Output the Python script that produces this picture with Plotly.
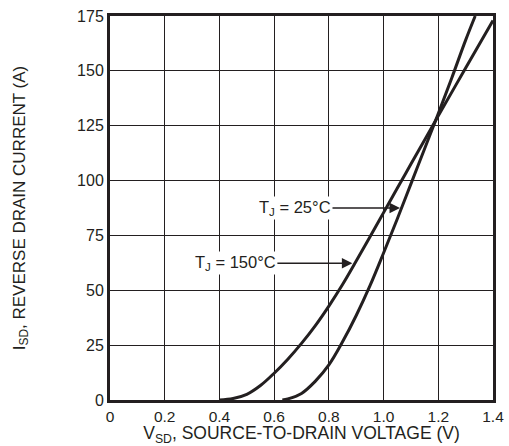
import plotly.graph_objects as go

v_25 = [0.63, 0.65, 0.70, 0.75, 0.80, 0.85, 0.90, 0.95, 1.00, 1.05, 1.10, 1.15, 1.20, 1.25, 1.30, 1.335]
i_25 = [0.0, 0.5, 3.0, 8.5, 16.0, 26.5, 38.5, 52.0, 67.0, 82.5, 98.5, 114.5, 130.5, 147.0, 164.0, 175.0]

v_150 = [0.40, 0.45, 0.50, 0.55, 0.60, 0.65, 0.70, 0.75, 0.80, 0.85, 0.90, 0.95, 1.00, 1.05, 1.10, 1.15, 1.20, 1.30, 1.40]
i_150 = [0.0, 0.7, 2.6, 6.6, 12.2, 18.6, 25.8, 33.8, 42.8, 52.6, 63.3, 74.3, 85.4, 96.5, 107.5, 118.5, 129.5, 151.3, 173.0]

x_ticks = [0, 0.2, 0.4, 0.6, 0.8, 1.0, 1.2, 1.4]
x_tick_labels = ["0", "0.2", "0.4", "0.6", "0.8", "1.0", "1.2", "1.4"]
y_ticks = [0, 25, 50, 75, 100, 125, 150, 175]

ink = "#231f20"
font = "Liberation Sans, Arial, sans-serif"

fig = go.Figure()
fig.add_trace(go.Scatter(x=v_25, y=i_25, mode="lines", line=dict(color=ink, width=3, shape="spline"),
                         name="TJ = 25°C", showlegend=False))
fig.add_trace(go.Scatter(x=v_150, y=i_150, mode="lines", line=dict(color=ink, width=3, shape="spline"),
                         name="TJ = 150°C", showlegend=False))

fig.add_annotation(x=1.06, y=87.5, text="T<sub>J</sub> = 25°C", showarrow=True, ax=-105, ay=0,
                   arrowhead=2, arrowsize=1.4, arrowwidth=1.5, arrowcolor=ink,
                   font=dict(family=font, size=16.5, color=ink), bgcolor="white", borderpad=1)
fig.add_annotation(x=0.886, y=62.3, text="T<sub>J</sub> = 150°C", showarrow=True, ax=-117, ay=0,
                   arrowhead=2, arrowsize=1.4, arrowwidth=1.5, arrowcolor=ink,
                   font=dict(family=font, size=16.5, color=ink), bgcolor="white", borderpad=1)

fig.update_layout(
    width=509, height=446,
    margin=dict(l=110, r=16, t=16, b=46),
    plot_bgcolor="white", paper_bgcolor="white",
    font=dict(family=font, size=16, color=ink),
    xaxis=dict(range=[0, 1.4], tickvals=x_ticks, ticktext=x_tick_labels,
               showgrid=True, gridcolor=ink, gridwidth=1,
               showline=True, linecolor=ink, linewidth=3, mirror=True, automargin=False,
               ticks="", zeroline=False, tickfont=dict(size=15.5),
               title=dict(text="V<sub>SD</sub>, SOURCE-TO-DRAIN VOLTAGE (V)", font=dict(size=17.5), standoff=11)),
    yaxis=dict(range=[0, 175], tickvals=y_ticks,
               showgrid=True, gridcolor=ink, gridwidth=1,
               showline=True, linecolor=ink, linewidth=3, mirror=True, automargin=False,
               ticks="", zeroline=False, tickfont=dict(size=16),
               title=dict(text="I<sub>SD</sub>, REVERSE DRAIN CURRENT (A)", font=dict(size=17), standoff=48)),
)

fig.write_html("out.html")
